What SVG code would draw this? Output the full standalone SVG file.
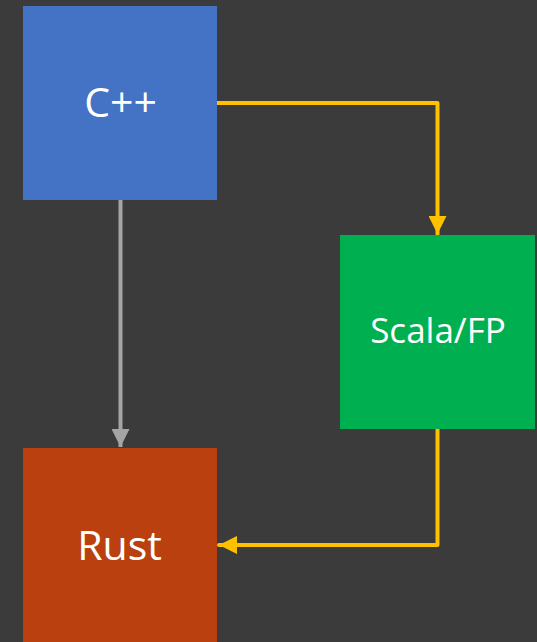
<svg xmlns="http://www.w3.org/2000/svg" width="537" height="642" viewBox="0 0 537 642">
<defs>
<style>
.lbl{font-family:"Open Sans","Liberation Sans",sans-serif;fill:#FFFFFF;text-anchor:middle}
.y{stroke:#FFC000;stroke-width:4;fill:none;stroke-linejoin:round;stroke-linecap:round}
.g{stroke:#A5A5A5;stroke-width:4;fill:none}
</style>
<marker id="ay" markerUnits="userSpaceOnUse" markerWidth="18" markerHeight="18" refX="18" refY="9" orient="auto" viewBox="0 0 18 18"><path d="M0,0 L18,9 L0,18 Z" fill="#FFC000"/></marker>
<marker id="ag" markerUnits="userSpaceOnUse" markerWidth="18" markerHeight="18" refX="18" refY="9" orient="auto" viewBox="0 0 18 18"><path d="M0,0 L18,9 L0,18 Z" fill="#A5A5A5"/></marker>
</defs>
<rect width="537" height="642" fill="#3B3B3B"/>
<g id="connectors">
<path class="y" d="M217,103 H437.5 V234" marker-end="url(#ay)"/>
<path class="y" d="M437.5,429 V545 H219" marker-end="url(#ay)"/>
<path class="g" d="M120.5,200 V447" marker-end="url(#ag)"/>
</g>
<g id="cpp">
<rect x="23" y="6" width="194" height="194" fill="#4472C4"/>
<text class="lbl" x="120.5" y="117" font-size="41">C++</text>
</g>
<g id="scala">
<rect x="340" y="235" width="195" height="194" fill="#00B050"/>
<text class="lbl" x="438" y="343" font-size="35">Scala/FP</text>
</g>
<g id="rust">
<rect x="23" y="448" width="194" height="194" fill="#BA410F"/>
<text class="lbl" x="119.5" y="560" font-size="41">Rust</text>
</g>
</svg>
